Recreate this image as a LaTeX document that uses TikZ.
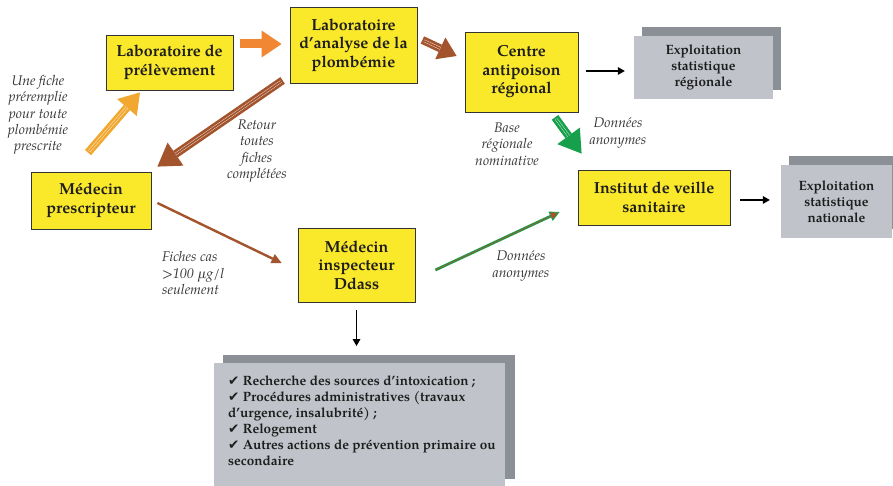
\documentclass[tikz,border=0pt]{standalone}
\usepackage{fontspec}
\setmainfont{TeX Gyre Pagella}
\newfontfamily\symfont{DejaVu Sans}
\usetikzlibrary{arrows.meta,calc}
\definecolor{boxyellow}{RGB}{250,232,42}
\definecolor{frontgray}{RGB}{192,196,202}
\definecolor{shadowgray}{RGB}{138,144,150}
\definecolor{orangeA}{RGB}{242,168,48}
\definecolor{orangeB}{RGB}{241,135,50}
\definecolor{brownA}{RGB}{163,84,45}
\definecolor{greenA}{RGB}{22,160,76}
\definecolor{textdark}{RGB}{30,30,30}
\definecolor{labelgray}{RGB}{55,55,55}
\newcommand{\fatarrow}[6]{%
  \draw[#1, line width=#2, -{Triangle[length=#3,width=#4,line width=0pt]}] #5 -- #6;
  \draw[white, line width=0.35pt, double=#1, double distance=1.8pt, shorten >=#3, shorten <=2pt] #5 -- #6;
}
\newcommand{\ck}{{\symfont\fontsize{13.5}{16}\selectfont ✔}}
\tikzset{
  yellowbox/.style={draw=black!80, line width=0.8pt, fill=boxyellow, inner sep=0pt,
    font=\bfseries\fontsize{16}{18.5}\selectfont, align=center, text=textdark},
  graybox/.style={fill=frontgray, inner sep=0pt,
    font=\bfseries\fontsize{13.5}{16}\selectfont, align=center, text=textdark},
  lbl/.style={font=\itshape\fontsize{14}{16.3}\selectfont, align=center, text=labelgray, inner sep=0pt},
  blackarrow/.style={black, line width=1.3pt, -{Triangle[length=7pt,width=8pt,line width=0pt]}},
  thinbrown/.style={brownA, line width=2.4pt, -{Triangle[length=10pt,width=10pt,line width=0pt]}}
}
\begin{document}
\begin{tikzpicture}[x=1pt,y=-1pt]
\clip (0,0) rectangle (893,486);
\fill[white] (0,0) rectangle (893,486);

% yellow boxes
\node[yellowbox, minimum width=127, minimum height=55] (lp) at (169.5,62.5) {Laboratoire de\\prélèvement};
\node[yellowbox, minimum width=127, minimum height=76] (la) at (353.5,45) {Laboratoire\\d’analyse de la\\plombémie};
\node[yellowbox, minimum width=113, minimum height=80] (cap) at (521.5,72) {Centre\\antipoison\\régional};
\node[yellowbox, minimum width=120, minimum height=57] (mp) at (91,200.5) {Médecin\\prescripteur};
\node[yellowbox, minimum width=117, minimum height=74] (ddass) at (356.5,265) {Médecin\\inspecteur\\Ddass};
\node[yellowbox, minimum width=152, minimum height=55] (ivs) at (654,197.5) {Institut de veille\\sanitaire};

% gray boxes with shadow
\fill[shadowgray] (642,27) rectangle (781,90);
\fill[shadowgray] (789,156) rectangle (900,229);
\node[graybox, minimum width=139, minimum height=63] (esr) at (703.5,67.5) {Exploitation\\statistique\\régionale};
\node[graybox, minimum width=111, minimum height=73] (esn) at (836.5,201.5) {Exploitation\\statistique\\nationale};

% bottom box
\fill[shadowgray] (223,355) rectangle (515,479);
\fill[frontgray] (214,363) rectangle (505,490);
\coordinate (acttop) at (356.5,355);
\node[anchor=north west, inner sep=0pt, align=left, text=textdark,
  font=\bfseries\fontsize{13.5}{16}\selectfont] (act) at (228,376)
  {\ck{} Recherche des sources d’intoxication ;\\
   \ck{} Procédures administratives (travaux\\
   d’urgence, insalubrité) ;\\
   \ck{} Relogement\\
   \ck{} Autres actions de prévention primaire ou\\
   secondaire};

% fat arrows
\fatarrow{orangeA}{8pt}{20pt}{26pt}{($(mp.north)+(-3,-19)$)}{($(lp.south)+(-29.5,2)$)}
\fatarrow{orangeB}{9pt}{20pt}{27pt}{($(lp.east)+(7,-18.5)$)}{($(la.west)+(-8,-1)$)}
\fatarrow{brownA}{8pt}{22pt}{28pt}{($(la.south west)+(-7,-3)$)}{($(mp.north east)+(6,-5)$)}
\fatarrow{brownA}{8pt}{18pt}{24pt}{($(la.east)+(5,-5)$)}{($(cap.west)+(-8,-16)$)}
\fatarrow{greenA}{8pt}{22pt}{28pt}{($(cap.south)+(33.5,5)$)}{($(ivs.north west)+(4,-16)$)}

% thin arrows
\draw[thinbrown] ($(mp.east)+(6,2.5)$) -- ($(ddass.west)+(-16,-2)$);
\draw[greenA, line width=2.8pt, -{Triangle[length=10pt,width=10pt,line width=0.8pt,fill=brownA,color=greenA]}]
  ($(ddass.east)+(20,5)$) -- ($(ivs.west)+(-18,14.5)$);
\draw[brownA, line width=0.7pt, shorten >=10pt] ($(ddass.east)+(20,5)$) -- ($(ivs.west)+(-18,14.5)$);

% black arrows
\draw[blackarrow] ($(cap.east)+(8,-1)$) -- ($(esr.west)+(-9,3.5)$);
\draw[blackarrow] ($(ivs.east)+(10,2.5)$) -- ($(esn.west)+(-11,-1.5)$);
\draw[blackarrow] ($(ddass.south)+(0,8)$) -- ($(acttop)+(0,-9)$);

% labels
\node[lbl] (l1) at (38,115) {Une fiche\\préremplie\\pour toute\\plombémie\\prescrite};
\node[lbl] (l2) at (257,151) {Retour\\toutes\\fiches\\complétées};
\node[lbl] (l3) at (507,144) {Base\\régionale\\nominative};
\node[lbl] (l4) at (618,133) {Données\\anonymes};
\node[lbl, align=left, anchor=west] (l5) at (162,273) {Fiches cas\\>100 µg/l\\seulement};
\node[lbl] (l6) at (521,266) {Données\\anonymes};
\end{tikzpicture}
\end{document}
